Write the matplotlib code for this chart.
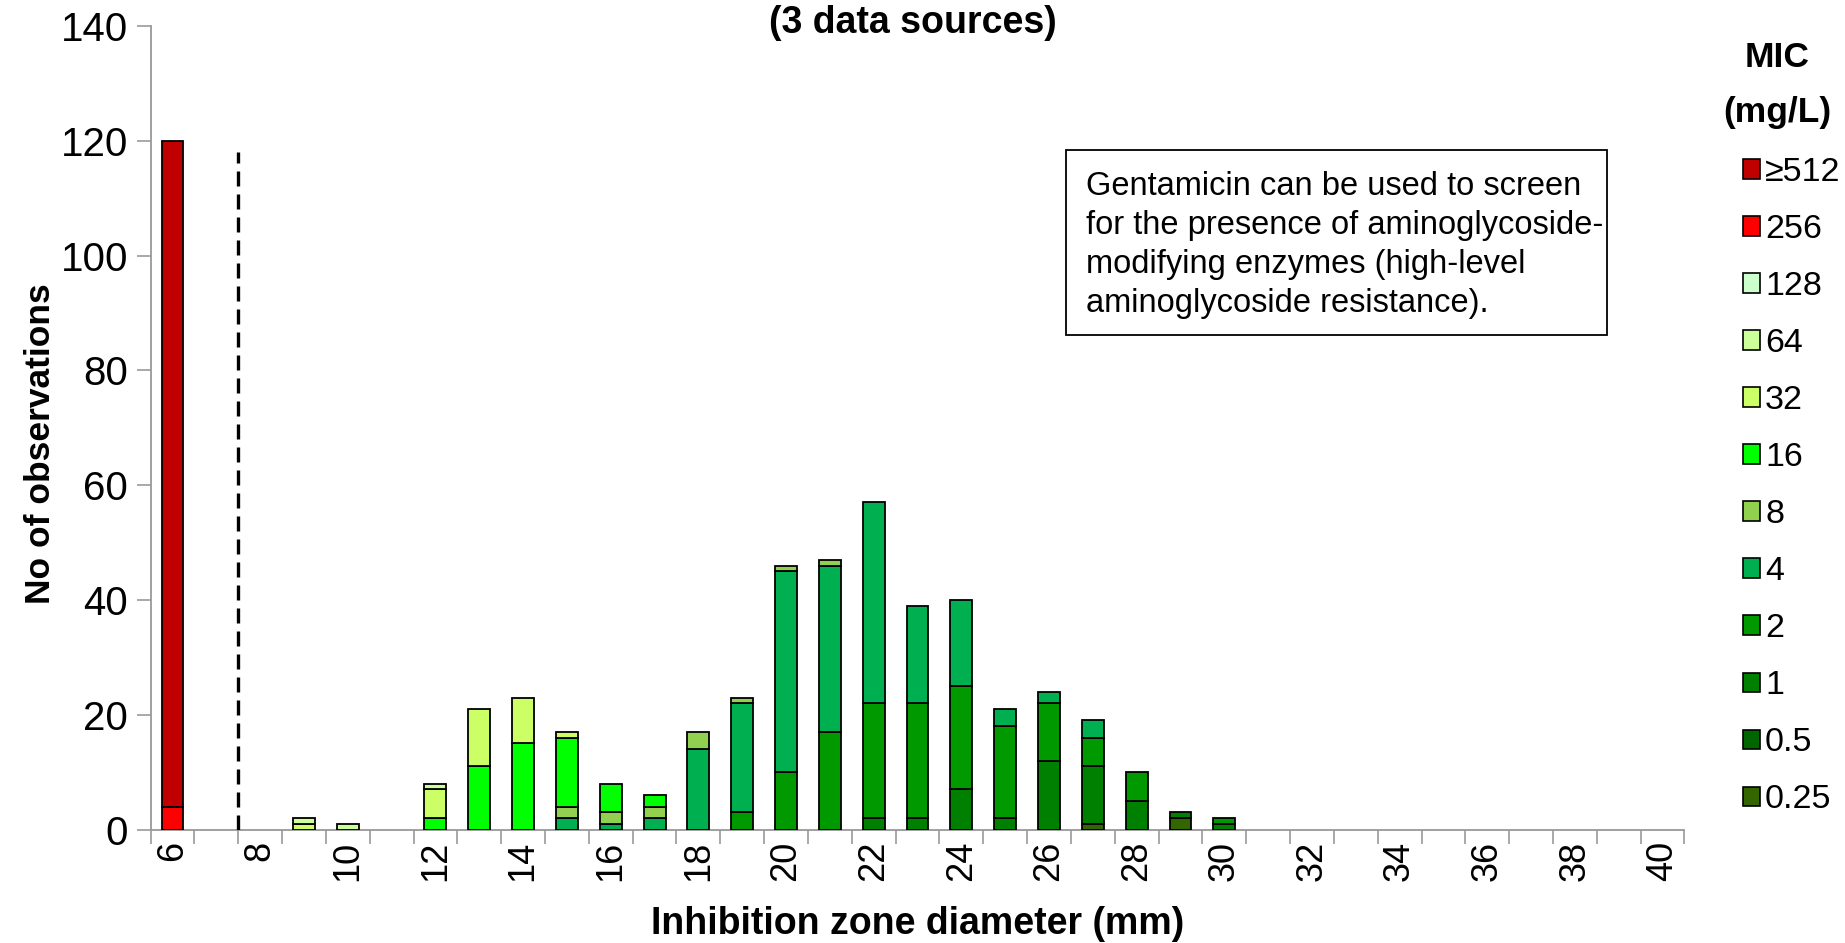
import matplotlib.pyplot as plt
import numpy as np
from matplotlib.patches import Patch, Rectangle

# inhibition zone diameters with data (mm) and the full axis range
zones = np.arange(6, 31)
axis_zones = np.arange(6, 41)

# counts per MIC (mg/L), zones 6..30
mic_025 = [0, 0, 0, 0, 0, 0, 0, 0, 0, 0, 0, 0, 0, 0, 0, 0, 0, 0, 0, 0, 0, 1, 0, 2, 0]
mic_05 = [0, 0, 0, 0, 0, 0, 0, 0, 0, 0, 0, 0, 0, 0, 0, 0, 0, 0, 0, 0, 0, 0, 0, 0, 0]
mic_1 = [0, 0, 0, 0, 0, 0, 0, 0, 0, 0, 0, 0, 0, 0, 0, 0, 2, 2, 7, 2, 12, 10, 5, 1, 1]
mic_2 = [0, 0, 0, 0, 0, 0, 0, 0, 0, 0, 0, 0, 0, 3, 10, 17, 20, 20, 18, 16, 10, 5, 5, 0, 1]
mic_4 = [0, 0, 0, 0, 0, 0, 0, 0, 0, 2, 1, 2, 14, 19, 35, 29, 35, 17, 15, 3, 2, 3, 0, 0, 0]
mic_8 = [0, 0, 0, 0, 0, 0, 0, 0, 0, 2, 2, 2, 3, 1, 1, 1, 0, 0, 0, 0, 0, 0, 0, 0, 0]
mic_16 = [0, 0, 0, 0, 0, 0, 2, 11, 15, 12, 5, 2, 0, 0, 0, 0, 0, 0, 0, 0, 0, 0, 0, 0, 0]
mic_32 = [0, 0, 0, 1, 0, 0, 5, 10, 8, 1, 0, 0, 0, 0, 0, 0, 0, 0, 0, 0, 0, 0, 0, 0, 0]
mic_64 = [0, 0, 0, 1, 1, 0, 1, 0, 0, 0, 0, 0, 0, 0, 0, 0, 0, 0, 0, 0, 0, 0, 0, 0, 0]
mic_128 = [0, 0, 0, 0, 0, 0, 0, 0, 0, 0, 0, 0, 0, 0, 0, 0, 0, 0, 0, 0, 0, 0, 0, 0, 0]
mic_256 = [4, 0, 0, 0, 0, 0, 0, 0, 0, 0, 0, 0, 0, 0, 0, 0, 0, 0, 0, 0, 0, 0, 0, 0, 0]
mic_512 = [116, 0, 0, 0, 0, 0, 0, 0, 0, 0, 0, 0, 0, 0, 0, 0, 0, 0, 0, 0, 0, 0, 0, 0, 0]

mic_labels = ['0.25', '0.5', '1', '2', '4', '8', '16', '32', '64', '128', '256', '\u2265512']
mic_colors = ['#336600', '#006600', '#008000', '#009900', '#00B050', '#92D050',
              '#00FF00', '#CCFF66', '#CCFF99', '#CCFFCC', '#FF0000', '#C00000']
series = [mic_025, mic_05, mic_1, mic_2, mic_4, mic_8, mic_16, mic_32, mic_64,
          mic_128, mic_256, mic_512]

breakpoint_x = 7.5
breakpoint_top = 118

plt.rcParams['font.family'] = ['Liberation Sans', 'DejaVu Sans']

fig = plt.figure(figsize=(18.45, 9.43), dpi=100)
ax = fig.add_axes([0.0816, 0.1203, 0.913 - 0.0816, 0.9725 - 0.1203])

bottom = np.zeros(len(zones))
for vals, col in zip(series, mic_colors):
    vals = np.array(vals, dtype=float)
    mask = vals > 0
    ax.bar(zones[mask], vals[mask], width=0.5, bottom=bottom[mask], color=col,
           edgecolor='black', linewidth=1.3, zorder=3)
    bottom += vals

ax.plot([breakpoint_x, breakpoint_x], [0, breakpoint_top], color='black',
        lw=2.4, dashes=(4.5, 2.4), zorder=4)

ax.set_xlim(axis_zones[0] - 0.5, axis_zones[-1] + 0.5)
ax.set_ylim(0, 140)
ax.set_yticks(np.arange(0, 141, 20))
ax.set_xticks(np.append(axis_zones - 0.5, axis_zones[-1] + 0.5))
ax.set_xticklabels([])
ax.set_xticks(axis_zones[::2], minor=True)
ax.set_xticklabels([str(z) for z in axis_zones[::2]], minor=True, rotation=90)
ax.tick_params(axis='x', which='minor', length=0, pad=8, labelsize=26)
ax.tick_params(axis='x', which='major', length=10, width=1.2, color='#999999')
ax.tick_params(axis='y', length=10, width=1.2, color='#999999', labelsize=29, pad=6)

for s in ['top', 'right']:
    ax.spines[s].set_visible(False)
for s in ['left', 'bottom']:
    ax.spines[s].set_color('#999999')
    ax.spines[s].set_linewidth(1.3)

ax.set_xlabel('Inhibition zone diameter (mm)', fontsize=27, fontweight='bold',
              labelpad=18)
ax.set_ylabel('No of observations', fontsize=25.5, fontweight='bold')
ax.yaxis.set_label_coords(-0.061, 0.48)
fig.text(0.495, 0.976, '(3 data sources)', ha='center', va='center', fontsize=27,
         fontweight='bold')

# note box
fig.patches.append(Rectangle((1066 / 1845, 1 - 335 / 943), (1607 - 1066) / 1845,
                             (335 - 150) / 943, transform=fig.transFigure,
                             facecolor='white', edgecolor='black', lw=1.3))
fig.text(1086 / 1845, 1 - 245 / 943,
         'Gentamicin can be used to screen\nfor the presence of aminoglycoside-\n'
         'modifying enzymes (high-level\naminoglycoside resistance).',
         ha='left', va='center', fontsize=23.5, linespacing=1.32)

# legend: title as its own centred text, entries below
fig.text(1777 / 1845, 1 - 85 / 943, 'MIC\n(mg/L)', ha='center', va='center',
         multialignment='center', fontsize=25.5, fontweight='bold', linespacing=1.85)
handles = [Patch(facecolor=c, edgecolor='black', lw=1.2) for c in mic_colors][::-1]
leg = fig.legend(handles, mic_labels[::-1], loc='upper left',
                 bbox_to_anchor=(1743 / 1845, 1 - 157 / 943), frameon=False,
                 fontsize=24.5, handlelength=0.5, handleheight=0.5, handletextpad=0.15,
                 labelspacing=0.765, borderaxespad=0, borderpad=0)

fig.savefig('out.png', dpi=100)
